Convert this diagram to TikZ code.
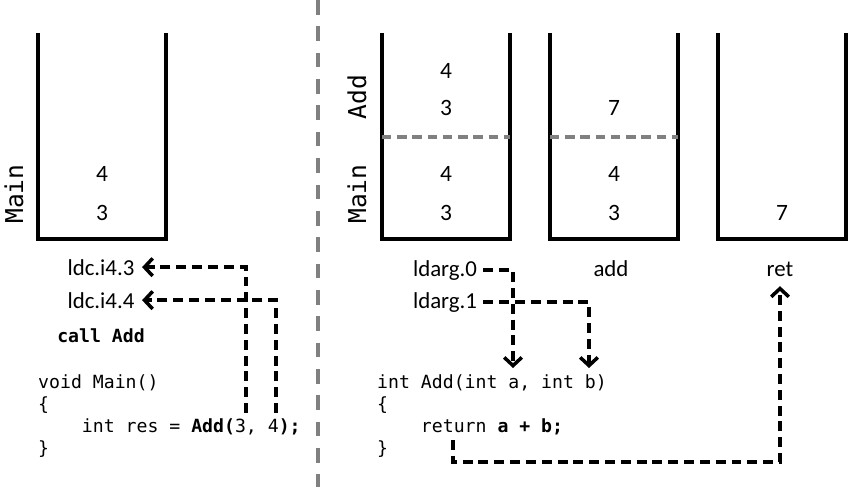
\documentclass[tikz,border=0pt]{standalone}
\usepackage{fontspec}
\setmainfont{Carlito}
\newfontfamily\codefont{DejaVu Sans Mono}
\usetikzlibrary{arrows.meta}

\tikzset{
  stackwall/.style={line width=2.6pt, line join=miter},
  framesep/.style={gray, line width=3.4pt, dash pattern=on 8pt off 5pt},
  pagesep/.style={gray, line width=3.4pt, dash pattern=on 12.5pt off 10pt},
  flow/.style={line width=3.2pt, dash pattern=on 8.5pt off 5pt,
    -{Straight Barb[length=7pt,width=15pt,line width=3pt]}},
  val/.style={font=\fontsize{20}{23}\selectfont},
  op/.style={font=\fontsize{19.5}{22}\selectfont, anchor=base},
  code/.style={font=\codefont\fontsize{15.5}{18.7}\selectfont, align=left,
    anchor=base west, inner sep=0pt},
  framelbl/.style={font=\codefont\fontsize{21}{23}\selectfont, rotate=90},
}

\begin{document}
\begin{tikzpicture}[x=0.03cm, y=-0.03cm]
  \useasboundingbox (0,0) rectangle (852,487);

  % --- 1. separator ---
  \coordinate (sepT) at (318,0);
  \coordinate (sepB) at (318,487);
  \draw[pagesep] (sepT) -- (sepB);

  % --- 2. stacks ---
  \foreach \s/\xl in {1/38, 2/382, 3/550, 4/718}{
    \draw[stackwall] (\xl,33) -- (\xl,239) -- (\xl+128,239) -- (\xl+128,33);
  }
  % frame boundary (Add over Main)
  \draw[framesep] (382,137) -- (510,137);
  \draw[framesep] (550,137) -- (678,137);

  % frame labels
  \node[framelbl] (mainL)  at (14,194)  {Main};
  \node[framelbl] (mainR)  at (357,194) {Main};
  \node[framelbl] (addR)   at (357,97)  {Add};

  % --- 3. stack contents ---
  \node[val] (s1b) at (102,213) {3};
  \node[val] (s1a) at (102,174) {4};

  \node[val] (s2b) at (446,213) {3};
  \node[val] (s2a) at (446,174) {4};
  \node[val] (s2d) at (446,108) {3};
  \node[val] (s2c) at (446,71)  {4};

  \node[val] (s3b) at (614,213) {3};
  \node[val] (s3a) at (614,174) {4};
  \node[val] (s3c) at (614,108) {7};

  \node[val] (s4a) at (782,213) {7};

  % --- 4. instructions ---
  \node[op] (ldc3) at (101,275) {ldc.i4.3};
  \node[op] (ldc4) at (101,308) {ldc.i4.4};
  \node[op, font=\codefont\bfseries\fontsize{15.5}{18.7}\selectfont] (call) at (101,342) {call Add};

  \node[op] (ldarg0) at (445,276) {ldarg.0};
  \node[op] (ldarg1) at (445,308) {ldarg.1};
  \node[op] (addop)  at (611,276) {add};
  \node[op] (ret)    at (780,276) {ret};

  % --- 5. source code (base = last line) ---
  \node[code] (mainsrc) at (38,454) {void Main()\\
    \{\\
    \phantom{0000}int res = \textbf{Add(}3, 4\textbf{);}\\
    \}};
  \node[code] (addsrc) at (377,454) {int Add(int a, int b)\\
    \{\\
    \phantom{0000}return \textbf{a + b;}\\
    \}};

  % --- 6. arrows ---
  \coordinate (arg3) at (246,413);
  \coordinate (arg4) at (276,413);
  \draw[flow] (arg3) |- ([xshift=3]ldc3.east);
  \draw[flow] (arg4) |- ([xshift=3]ldc4.east);

  \coordinate (parA) at (513,368);
  \coordinate (parB) at (589,368);
  \draw[flow] ([xshift=2]ldarg0.east) -| (parA);
  \draw[flow] ([xshift=2]ldarg1.east) -| (parB);

  \coordinate (retS) at (453,440);
  \coordinate (retC) at (453,462);
  \draw[flow, shorten >=5pt] (retS) -- (retC) -| (ret.south);

\end{tikzpicture}
\end{document}
